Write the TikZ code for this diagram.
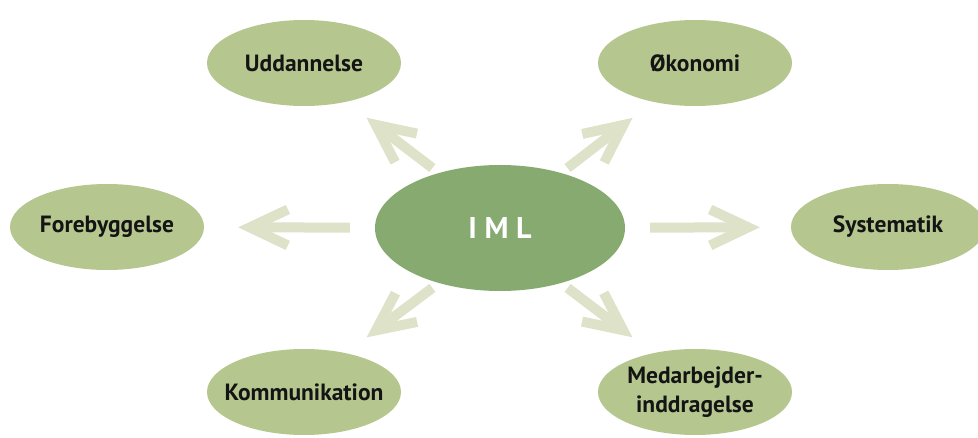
\documentclass[tikz,border=0pt]{standalone}
\usepackage{fontspec}
\setmainfont{PT Sans}
\usepackage{tikz}
\usetikzlibrary{shapes.geometric,arrows.meta}
\definecolor{leafgreen}{RGB}{181,199,143}
\definecolor{hubgreen}{RGB}{134,170,112}
\definecolor{paleolive}{RGB}{221,226,201}
\definecolor{inkdark}{RGB}{20,20,20}
\tikzset{
  leaf/.style={ellipse,fill=leafgreen,inner xsep=-40pt,inner ysep=-20pt,minimum width=194pt,minimum height=86pt,
    text=inkdark,font=\fontsize{23.5}{29}\selectfont\bfseries,align=center},
  hub/.style={ellipse,fill=hubgreen,inner sep=0pt,minimum width=250pt,minimum height=126pt,
    text=white,font=\fontsize{30}{32}\selectfont\bfseries},
  pointer/.style={draw=paleolive,line width=10pt,
    -{Straight Barb[length=38pt,width=36pt,line join=miter]}}
}
\begin{document}
\begin{tikzpicture}[x=1pt,y=-1pt]
        \useasboundingbox (0,0) rectangle (978,438);
        % centre and the six fields
        \node[hub]  (iml)  at (500,228) {I M L};
        \node[leaf] (udd)  at (304,63)  {Uddannelse};
        \node[leaf] (oko)  at (695,63)  {Økonomi};
        \node[leaf] (fore) at (107,227) {Forebyggelse};
        \node[leaf] (sys)  at (888,227) {Systematik};
        \node[leaf] (komm) at (304,392) {Kommunikation};
        \node[leaf] (med)  at (695,392) {Medarbejder-\\inddragelse};
        % arrows out of the centre
        \draw[pointer,shorten <=25pt,shorten >=34pt] (iml) -- (fore);
        \draw[pointer,shorten <=25pt,shorten >=31pt] (iml) -- (sys);
        \draw[pointer,shorten <=8pt,shorten >=26pt] (iml.138) -- (udd.-43);
        \draw[pointer,shorten <=8pt,shorten >=26pt] (iml.42) -- (oko.-137);
        \draw[pointer,shorten <=8pt,shorten >=26pt] (iml.-138) -- (komm.43);
        \draw[pointer,shorten <=8pt,shorten >=26pt] (iml.-42) -- (med.137);
\end{tikzpicture}
\end{document}
